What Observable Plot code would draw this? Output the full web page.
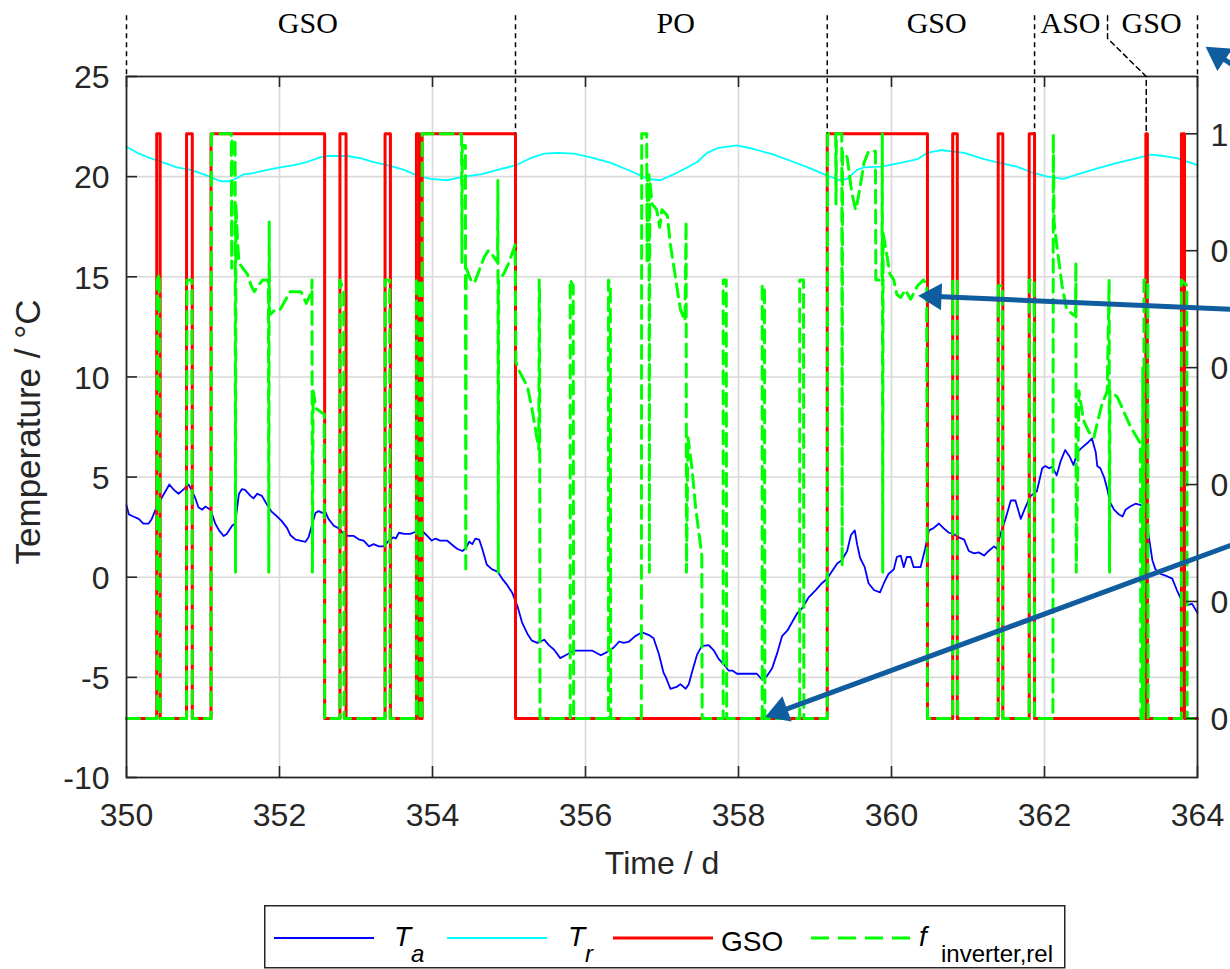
<!DOCTYPE html>
<html>
<head>
<meta charset="utf-8">
<script src="https://cdn.jsdelivr.net/npm/d3@7"></script>
<script src="https://cdn.jsdelivr.net/npm/@observablehq/plot@0.6"></script>
<style>
  html, body { margin: 0; padding: 0; background: #fff; }
  #wrap { position: relative; width: 1230px; height: 969px; overflow: hidden; }
  #chart svg { display: block; }
  #legend { position: absolute; left: 264px; top: 905px; }
</style>
</head>
<body>
<div id="wrap">
  <div id="chart"></div>
  <div id="legend"></div>
</div>
<script>
// ---------------- axes / ticks ----------------
const xTicks = [350, 352, 354, 356, 358, 360, 362, 364];
const yTicks = [-10, -5, 0, 5, 10, 15, 20, 25];
const rightTicks = [0, 0.2, 0.4, 0.6, 0.8, 1];
// temperatures (left axis) at which the right axis reads 0 and 1
const rightZeroT = -7.05;
const rightOneT = 22.14;

// ---------------- T_a (ambient temperature, °C) ----------------
const taDays = [350.00,350.03,350.09,350.16,350.22,350.29,350.33,350.38,350.44,350.51,350.56,350.62,350.68,350.75,350.81,350.86,350.90,350.94,350.99,351.03,351.10,351.16,351.21,351.27,351.31,351.38,351.42,351.47,351.51,351.55,351.62,351.66,351.71,351.77,351.84,351.90,351.97,352.03,352.10,352.14,352.21,352.27,352.34,352.38,352.43,352.47,352.51,352.56,352.60,352.64,352.71,352.77,352.84,352.90,352.97,353.04,353.10,353.17,353.23,353.30,353.36,353.43,353.49,353.52,353.56,353.63,353.71,353.78,353.84,353.89,353.95,353.99,354.04,354.10,354.19,354.26,354.32,354.39,354.43,354.48,354.52,354.56,354.61,354.65,354.71,354.78,354.85,354.91,354.98,355.04,355.11,355.17,355.24,355.30,355.37,355.46,355.52,355.59,355.67,355.74,355.85,355.96,356.09,356.20,356.28,356.37,356.44,356.50,356.57,356.65,356.74,356.83,356.89,356.96,357.02,357.05,357.11,357.20,357.24,357.31,357.35,357.39,357.46,357.52,357.61,357.68,357.74,357.81,357.87,357.92,357.98,358.11,358.24,358.31,358.37,358.44,358.51,358.57,358.64,358.70,358.77,358.83,358.92,359.01,359.09,359.16,359.22,359.29,359.35,359.42,359.47,359.52,359.55,359.59,359.65,359.70,359.77,359.85,359.90,359.96,360.03,360.07,360.12,360.16,360.20,360.25,360.29,360.38,360.44,360.49,360.55,360.62,360.68,360.75,360.81,360.88,360.95,361.01,361.08,361.14,361.21,361.27,361.34,361.38,361.42,361.49,361.56,361.62,361.69,361.75,361.82,361.90,361.97,362.01,362.06,362.10,362.16,362.21,362.27,362.33,362.38,362.43,362.49,362.56,362.62,362.67,362.69,362.73,362.78,362.82,362.86,362.91,362.97,363.02,363.06,363.12,363.19,363.26,363.32,363.36,363.41,363.45,363.52,363.60,363.67,363.73,363.80,363.87,363.93,364.00];
const taVals = [3.60,3.14,3.03,2.91,2.68,2.68,2.91,3.37,3.83,4.29,4.63,4.36,4.17,4.40,4.63,4.29,3.94,3.49,3.37,3.53,3.37,2.68,2.34,2.06,2.16,2.57,2.68,4.17,4.40,4.36,4.06,3.94,4.17,4.06,3.60,3.26,3.03,2.80,2.45,2.11,1.88,1.83,1.77,1.99,2.68,3.21,3.30,3.21,3.26,2.91,2.57,2.45,2.16,2.06,2.06,1.88,1.83,1.54,1.65,1.54,1.54,1.83,1.99,1.93,2.22,2.16,2.16,2.27,2.45,2.22,1.99,1.83,1.93,1.83,1.83,1.61,1.42,1.31,1.42,1.77,1.65,1.93,1.88,1.42,0.62,0.39,0.28,-0.07,-0.41,-0.76,-1.44,-2.25,-2.82,-3.17,-3.28,-3.12,-3.39,-3.62,-4.04,-3.90,-3.67,-3.67,-3.67,-3.90,-3.74,-3.51,-3.21,-3.28,-3.21,-2.94,-2.75,-2.89,-3.05,-3.85,-4.77,-4.99,-5.57,-5.46,-5.34,-5.57,-5.34,-4.77,-3.85,-3.44,-3.39,-3.67,-4.08,-4.36,-4.66,-4.66,-4.82,-4.82,-4.82,-5.12,-4.95,-4.54,-3.74,-2.94,-2.66,-2.25,-1.79,-1.56,-0.99,-0.64,-0.30,-0.07,0.28,0.69,0.85,1.31,2.11,2.34,1.65,0.96,0.50,-0.30,-0.64,-0.76,-0.30,0.16,0.39,1.01,1.08,0.50,1.01,1.01,0.50,0.50,1.42,2.34,2.45,2.68,2.45,2.22,2.16,1.99,1.88,1.31,1.19,1.24,1.08,1.31,1.54,1.42,2.11,2.91,3.83,3.83,2.91,3.49,4.06,4.29,5.44,5.55,5.44,5.51,5.09,5.78,6.35,6.01,5.60,6.24,6.47,6.70,6.93,6.24,5.55,5.44,4.98,4.40,3.72,3.37,3.14,3.03,3.37,3.53,3.67,3.60,3.37,2.11,0.85,0.39,0.16,0.05,-0.07,-0.64,-1.22,-1.38,-1.33,-1.79];

// ---------------- T_r (room temperature, °C) ----------------
const trDays = [350.00,350.14,350.31,350.49,350.66,350.84,351.01,351.12,351.23,351.36,351.45,351.53,351.66,351.84,352.01,352.19,352.36,352.53,352.62,352.88,353.06,353.23,353.41,353.63,353.80,353.97,354.19,354.41,354.63,354.85,355.09,355.28,355.46,355.63,355.85,356.07,356.33,356.59,356.81,356.98,357.15,357.33,357.46,357.59,357.72,357.98,358.20,358.46,358.72,358.94,359.16,359.33,359.42,359.55,359.64,359.86,360.12,360.34,360.47,360.64,360.95,361.21,361.47,361.64,361.82,362.04,362.25,362.43,362.69,362.95,363.21,363.39,363.56,363.73,364.00];
const trVals = [21.49,21.19,20.92,20.69,20.46,20.34,20.11,19.95,19.77,19.77,19.95,20.11,20.18,20.34,20.46,20.57,20.73,20.96,21.03,21.03,20.92,20.73,20.57,20.34,20.05,19.89,19.82,20.00,20.11,20.34,20.57,20.92,21.15,21.19,21.15,20.96,20.69,20.28,19.89,19.82,20.11,20.46,20.73,21.19,21.42,21.56,21.38,21.10,20.73,20.41,20.05,19.82,19.89,20.34,20.46,20.50,20.69,20.87,21.19,21.33,21.19,20.87,20.64,20.50,20.23,20.00,19.89,20.11,20.41,20.69,20.92,21.10,21.03,20.92,20.57];

// ---------------- GSO state (0/1, right axis), change points ----------------
const gsoDays = [350.00,350.395,350.44,350.785,350.86,351.105,352.59,352.79,352.87,353.38,353.45,353.79,353.83,353.865,355.085,359.16,360.47,360.80,360.86,361.395,361.455,361.80,361.87,363.325,363.345,363.79,363.83,364.00];
const gsoVals = [0,1,0,1,0,1,0,1,0,1,0,1,0,1,0,1,0,1,0,1,0,1,0,1,0,1,0,0];

// ---------------- f_inverter,rel (right axis) ----------------
const fDays = [350.00,350.40,350.40,350.43,350.44,350.785,350.79,350.855,350.86,351.105,351.11,351.37,351.375,351.38,351.42,351.425,351.43,351.45,351.47,351.52,351.58,351.63,351.67,351.72,351.78,351.855,351.86,351.865,351.87,351.95,352.01,352.14,352.28,352.35,352.42,352.425,352.43,352.44,352.48,352.585,352.59,352.79,352.79,352.84,352.845,353.38,353.38,353.44,353.445,353.79,353.79,353.83,353.835,353.86,353.865,354.38,354.385,354.39,354.43,354.435,354.44,354.50,354.55,354.62,354.68,354.73,354.80,354.85,354.855,354.86,354.865,354.93,355.00,355.08,355.09,355.13,355.24,355.30,355.39,355.395,355.40,355.405,355.80,355.80,355.84,355.845,356.30,356.30,356.325,356.33,356.73,356.735,356.80,356.805,356.81,356.83,356.835,356.84,356.87,356.93,356.97,357.00,357.07,357.11,357.17,357.24,357.30,357.315,357.32,357.34,357.39,357.44,357.52,357.525,357.80,357.80,357.84,357.845,358.31,358.31,358.34,358.345,358.80,358.80,358.85,358.855,359.16,359.165,359.27,359.275,359.28,359.35,359.355,359.36,359.42,359.48,359.53,359.55,359.59,359.64,359.70,359.79,359.795,359.875,359.88,359.885,359.89,359.93,359.98,360.03,360.07,360.12,360.18,360.25,360.34,360.42,360.46,360.47,360.80,360.80,360.86,360.865,361.395,361.395,361.45,361.455,361.80,361.80,361.865,361.87,362.11,362.115,362.125,362.16,362.23,362.29,362.38,362.405,362.41,362.415,362.45,362.51,362.58,362.645,362.69,362.75,362.82,362.845,362.85,362.855,362.95,363.02,363.12,363.21,363.255,363.26,363.28,363.285,363.29,363.30,363.30,363.35,363.355,363.79,363.79,363.86,363.865,364.00];
const fVals = [0,0,0.75,0.76,0,0,0.75,0.75,0,0,1.0,1.0,0.77,0.99,0.99,0.25,0.88,0.82,0.78,0.77,0.76,0.74,0.73,0.74,0.75,0.75,0.25,0.85,0.69,0.70,0.70,0.73,0.73,0.71,0.73,0.75,0.25,0.56,0.53,0.52,0,0,0.75,0.73,0,0,0.75,0.75,0,0,0.75,0.75,0,0,1.0,1.0,0.78,0.98,0.98,0.25,0.77,0.75,0.745,0.77,0.79,0.80,0.79,0.78,0.92,0.25,0.75,0.76,0.78,0.81,0.61,0.595,0.568,0.53,0.46,0.75,0.74,0,0,0.75,0.74,0,0,0.75,0.74,0,0,1.0,1.0,0.78,0.93,0.93,0.25,0.92,0.88,0.87,0.84,0.87,0.86,0.81,0.76,0.70,0.68,0.85,0.25,0.48,0.43,0.36,0.28,0,0,0.75,0.75,0,0,0.74,0.74,0,0,0.75,0.75,0,0,1.0,1.0,0.88,1.0,1.0,0.26,0.97,0.96,0.90,0.87,0.88,0.91,0.95,0.97,0.97,0.75,0.75,1.0,0.25,0.83,0.80,0.76,0.75,0.725,0.72,0.733,0.717,0.74,0.75,0.74,0,0,0.75,0.75,0,0,0.74,0.74,0,0,0.75,0.75,0,0,1.0,0.85,0.81,0.74,0.70,0.69,0.69,0.78,0.25,0.56,0.51,0.49,0.48,0.505,0.537,0.56,0.75,0.25,0.56,0.55,0.53,0.50,0.48,0.47,0,0,0.6,0,0,0.75,0.75,0,0,0.75,0.74,0,0];

// ---------------- operating-phase annotation (top) ----------------
const phaseEdges = [350, 355.085, 359.16, 361.87, 364];
const phaseEdgeToGso = [false, true, true, true, false];
const phaseNames = ["GSO", "PO", "GSO", "ASO", "GSO"];
const phaseMids = [352.37, 357.18, 360.59, 362.34, 363.40];
const phaseLabelT = 27.63;
const phaseLineTopT = 28.03;
const asoGsoDays = [362.824, 362.824, 363.33, 363.33];
const asoGsoT = [phaseLineTopT, 26.9, 25.0, rightOneT];

// ---------------- highlight arrows ----------------
const arrowFromDay = [364.6, 364.6, 364.82];
const arrowFromT = [13.35, 1.82, 24.64];
const arrowToDay = [360.33, 358.33, 364.09];
const arrowToT = [14.06, -7.0, 26.53];

// ---------------- build ----------------
const toT = v => rightZeroT + v * (rightOneT - rightZeroT);
const fromT = t => (t - rightZeroT) / (rightOneT - rightZeroT);

const W = 1230, H = 895;
const mL = 126, mR = 33, mT = 76, mB = H - 777;
const xDom = [350, 364], yDom = [-10, 25];
const kx = (W - mL - mR) / (xDom[1] - xDom[0]);   // px per day
const ky = (H - mT - mB) / (yDom[1] - yDom[0]);   // px per °C
const tickPx = 11;
const tdx = tickPx / kx;
const tdy = tickPx / ky;
const rightT = rightTicks.map(toT);
const ink = "#262626";
const arrowBlue = "#0f5c9e";
const sans = '"Liberation Sans", Arial, Helvetica, sans-serif';

const ta = taDays.map((d, i) => ({x: d, y: taVals[i]}));
const tr = trDays.map((d, i) => ({x: d, y: trVals[i]}));
const gso = gsoDays.map((d, i) => ({x: d, y: toT(gsoVals[i])}));
const finv = fDays.map((d, i) => ({x: d, y: toT(fVals[i])}));
const edges = phaseEdges.map((d, i) => ({x: d, y2: phaseEdgeToGso[i] ? rightOneT : 25}));
const labels = phaseNames.map((n, i) => ({x: phaseMids[i], text: n}));
const asoGso = asoGsoDays.map((d, i) => ({x: d, y: asoGsoT[i]}));
// arrows: shaft + filled triangular head, direction computed in pixel space
const headR = 10, headBack = 17, shaftBack = 14;
const arrows = arrowFromDay.map((d, i) => {
  const x1 = d, y1 = arrowFromT[i], x2 = arrowToDay[i], y2 = arrowToT[i];
  const px = (x2 - x1) * kx, py = -(y2 - y1) * ky;
  const len = Math.hypot(px, py), ux = px / len, uy = py / len;
  return {
    x1, y1,
    sx: x2 - ux * shaftBack / kx, sy: y2 + uy * shaftBack / ky,
    hx: x2 - ux * headBack / kx, hy: y2 + uy * headBack / ky,
    angle: Math.atan2(ux, -uy) * 180 / Math.PI
  };
});

const chart = Plot.plot({
  width: W, height: H,
  marginLeft: mL, marginRight: mR, marginTop: mT, marginBottom: mB,
  x: {domain: xDom},
  y: {domain: yDom},
  style: {fontFamily: sans, color: ink, background: "white", overflow: "hidden"},
  marks: [
    Plot.ruleX(xTicks.slice(1, -1), {stroke: "#d9d9d9", strokeWidth: 1.6}),
    Plot.ruleY(yTicks.slice(1, -1), {stroke: "#d9d9d9", strokeWidth: 1.6}),
    Plot.line(ta, {x: "x", y: "y", stroke: "#0000ff", strokeWidth: 1.8}),
    Plot.line(tr, {x: "x", y: "y", stroke: "#00ffff", strokeWidth: 1.8}),
    Plot.line(gso, {x: "x", y: "y", curve: "step-after", stroke: "#ff0000", strokeWidth: 3}),
    Plot.line(finv, {x: "x", y: "y", stroke: "#00ff00", strokeWidth: 3, strokeDasharray: "13,7"}),
    Plot.frame({stroke: ink, strokeWidth: 1.8}),
    // inward ticks
    Plot.ruleX(xTicks, {x: d => d, y1: () => yDom[0], y2: () => yDom[0] + tdy, stroke: ink, strokeWidth: 1.6}),
    Plot.ruleX(xTicks, {x: d => d, y1: () => yDom[1], y2: () => yDom[1] - tdy, stroke: ink, strokeWidth: 1.6}),
    Plot.ruleY(yTicks, {y: d => d, x1: () => xDom[0], x2: () => xDom[0] + tdx, stroke: ink, strokeWidth: 1.6}),
    Plot.ruleY(rightT, {y: d => d, x1: () => xDom[1], x2: () => xDom[1] - tdx, stroke: ink, strokeWidth: 1.6}),
    // axes labels
    Plot.axisX({ticks: xTicks, tickSize: 0, tickPadding: 26, fontSize: 32, label: null, tickFormat: d => String(d)}),
    Plot.axisY({ticks: yTicks, anchor: "left", tickSize: 0, tickPadding: 17, fontSize: 32, label: null, tickFormat: d => String(d), dy: 1.5}),
    Plot.axisY({ticks: rightT, anchor: "right", tickSize: 0, tickPadding: 13, fontSize: 32, label: null, dy: 1.5,
      tickFormat: d => String(+fromT(d).toFixed(1))}),
    Plot.text(["Time / d"], {frameAnchor: "bottom", lineAnchor: "middle", dy: 86, fontSize: 32, fill: ink}),
    Plot.text(["Temperature / °C"], {frameAnchor: "left", textAnchor: "middle", lineAnchor: "middle", dx: -98, dy: 5, rotate: -90, fontSize: 35, fill: ink}),
    // phase annotation
    Plot.ruleX(edges, {x: "x", y1: () => phaseLineTopT, y2: "y2", stroke: "#000", strokeWidth: 1.5, strokeDasharray: "5,4"}),
    Plot.line(asoGso, {x: "x", y: "y", stroke: "#000", strokeWidth: 1.5, strokeDasharray: "5,4"}),
    Plot.text(labels, {x: "x", y: () => phaseLabelT, text: "text", fontFamily: '"Liberation Serif", "Times New Roman", serif', fontSize: 30, fill: "#000"}),
    // arrows
    Plot.link(arrows, {x1: "x1", y1: "y1", x2: "sx", y2: "sy", stroke: arrowBlue, strokeWidth: 5}),
    Plot.dot(arrows, {x: "hx", y: "hy", symbol: "triangle", r: headR, rotate: "angle", fill: arrowBlue, stroke: "none"})
  ]
});
document.getElementById("chart").appendChild(chart);

// ---------------- legend (below the chart) ----------------
const legendItems = [
  {color: "#0000ff", dash: null, width: 2, x: 10, label: "T", sub: "a", lx: 130, sx: 147},
  {color: "#00ffff", dash: null, width: 2, x: 183, label: "T", sub: "r", lx: 304, sx: 321},
  {color: "#ff0000", dash: null, width: 3, x: 349, label: "GSO", sub: null, lx: 457, sx: 0},
  {color: "#00ff00", dash: "18,9", width: 3, x: 547, label: "f", sub: "inverter,rel", lx: 655, sx: 677}
];
const ns = "http://www.w3.org/2000/svg";
const lg = document.createElementNS(ns, "svg");
lg.setAttribute("width", 802); lg.setAttribute("height", 64);
lg.style.display = "block";
function el(tag, attrs, txt) {
  const e = document.createElementNS(ns, tag);
  for (const k in attrs) e.setAttribute(k, attrs[k]);
  if (txt != null) e.textContent = txt;
  lg.appendChild(e);
  return e;
}
el("rect", {x: 0.75, y: 0.75, width: 800, height: 62, fill: "#fff", stroke: ink, "stroke-width": 1.5});
for (const it of legendItems) {
  el("line", {x1: it.x, x2: it.x + 100, y1: 33, y2: 33, stroke: it.color, "stroke-width": it.width, "stroke-dasharray": it.dash || "none"});
  if (it.sub) {
    el("text", {x: it.lx, y: 41, "font-family": sans, "font-size": 28, "font-style": "italic", fill: "#000"}, it.label);
    el("text", {x: it.sx, y: 57, "font-family": sans, "font-size": 24, "font-style": it.sub.length > 2 ? "normal" : "italic", fill: "#000"}, it.sub);
  } else {
    el("text", {x: it.lx, y: 46, "font-family": sans, "font-size": 28, fill: "#000"}, it.label);
  }
}
document.getElementById("legend").appendChild(lg);
</script>
</body>
</html>
